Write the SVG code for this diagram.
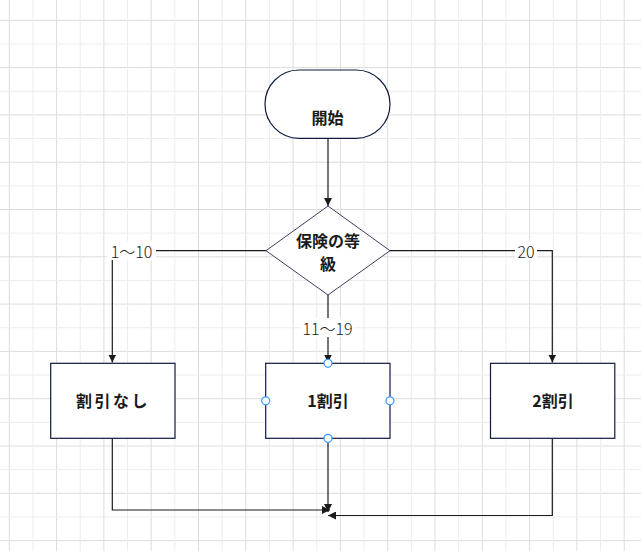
<svg xmlns="http://www.w3.org/2000/svg" width="641" height="551" viewBox="0 0 641 551">
<defs>
<pattern id="grid" patternUnits="userSpaceOnUse" x="8.8" y="19.8" width="47.3" height="47.3">
<line x1="0" y1="0.5" x2="47.3" y2="0.5" stroke="#dcdcdc" stroke-width="1"/>
<line x1="0.5" y1="0" x2="0.5" y2="47.3" stroke="#dcdcdc" stroke-width="1"/>
<line x1="0" y1="24.15" x2="47.3" y2="24.15" stroke="#ececec" stroke-width="1"/>
<line x1="24.15" y1="0" x2="24.15" y2="47.3" stroke="#ececec" stroke-width="1"/>
</pattern>
<marker id="arr" viewBox="0 0 10 10" refX="10" refY="5" markerWidth="8" markerHeight="8" markerUnits="userSpaceOnUse" orient="auto">
<path d="M0,0 L10,5 L0,10 Z" fill="#1a1a1a"/>
</marker>
</defs>
<style>
.shape{fill:#fff;stroke:#101a40;stroke-width:1.2}
.dia{fill:#fff;stroke:#3c3f60;stroke-width:1}
.lbl{font-family:"Noto Sans CJK JP","Noto Sans",sans-serif;font-weight:bold;font-size:16px;fill:#1a1a1a;text-anchor:middle;dominant-baseline:central}
.edge{fill:none;stroke:#1a1a1a;stroke-width:1.2}
.elbl{font-family:"Noto Sans CJK JP","Noto Sans",sans-serif;font-weight:300;font-size:16px;fill:#1a1a1a;text-anchor:middle;dominant-baseline:central}
.lbg{fill:#fff}
.handle{fill:#fff;stroke:#3399ff;stroke-width:1.2}
</style>
<rect width="641" height="551" fill="#fff"/>
<rect width="641" height="551" fill="url(#grid)"/>
<g id="connectors">
<path class="edge" d="M328,138.5 L328,206" marker-end="url(#arr)"/>
<path class="edge" d="M266,250.7 L112.3,250.7 L112.3,362.5" marker-end="url(#arr)"/>
<path class="edge" d="M328,295 L328,362.5" marker-end="url(#arr)"/>
<path class="edge" d="M390,250.7 L552.3,250.7 L552.3,362.5" marker-end="url(#arr)"/>
<path class="edge" d="M112.3,438.3 L112.3,510 L330,510" marker-end="url(#arr)"/>
<path class="edge" d="M328,438.3 L328,512" marker-end="url(#arr)"/>
<path class="edge" d="M552.3,438.3 L552.3,515.5 L328,515.5" marker-end="url(#arr)"/>
<rect class="lbg" x="107" y="241" width="49" height="19"/>
<text class="elbl" x="131.5" y="250.5">1～10</text>
<rect class="lbg" x="301" y="318" width="53" height="19"/>
<text class="elbl" x="327.5" y="327.5">11～19</text>
<rect class="lbg" x="515" y="241" width="22" height="19"/>
<text class="elbl" x="526" y="250.5">20</text>
</g>
<g id="start">
<rect class="shape" x="265" y="70" width="125" height="68.3" rx="34" ry="34"/>
<text class="lbl" x="327.5" y="116.5">開始</text>
</g>
<g id="decision">
<polygon class="dia" points="266,250.7 328,206 390,250.7 328,295"/>
<text class="lbl" x="328" y="240">保険の等</text>
<text class="lbl" x="328" y="263">級</text>
</g>
<g id="no-discount">
<rect class="shape" x="50.7" y="363.3" width="124.3" height="75"/>
<text class="lbl" x="113" y="400" letter-spacing="2.5">割引なし</text>
</g>
<g id="discount-10">
<rect class="shape" x="265.7" y="363.3" width="124.3" height="75"/>
<text class="lbl" x="328" y="400">1割引</text>
<circle class="handle" cx="265.7" cy="400.8" r="4"/>
<circle class="handle" cx="390" cy="400.8" r="4"/>
<circle class="handle" cx="328" cy="363.3" r="4"/>
<circle class="handle" cx="328" cy="438.3" r="4"/>
</g>
<g id="discount-20">
<rect class="shape" x="490.5" y="363.3" width="124.3" height="75"/>
<text class="lbl" x="553" y="400">2割引</text>
</g>
</svg>
